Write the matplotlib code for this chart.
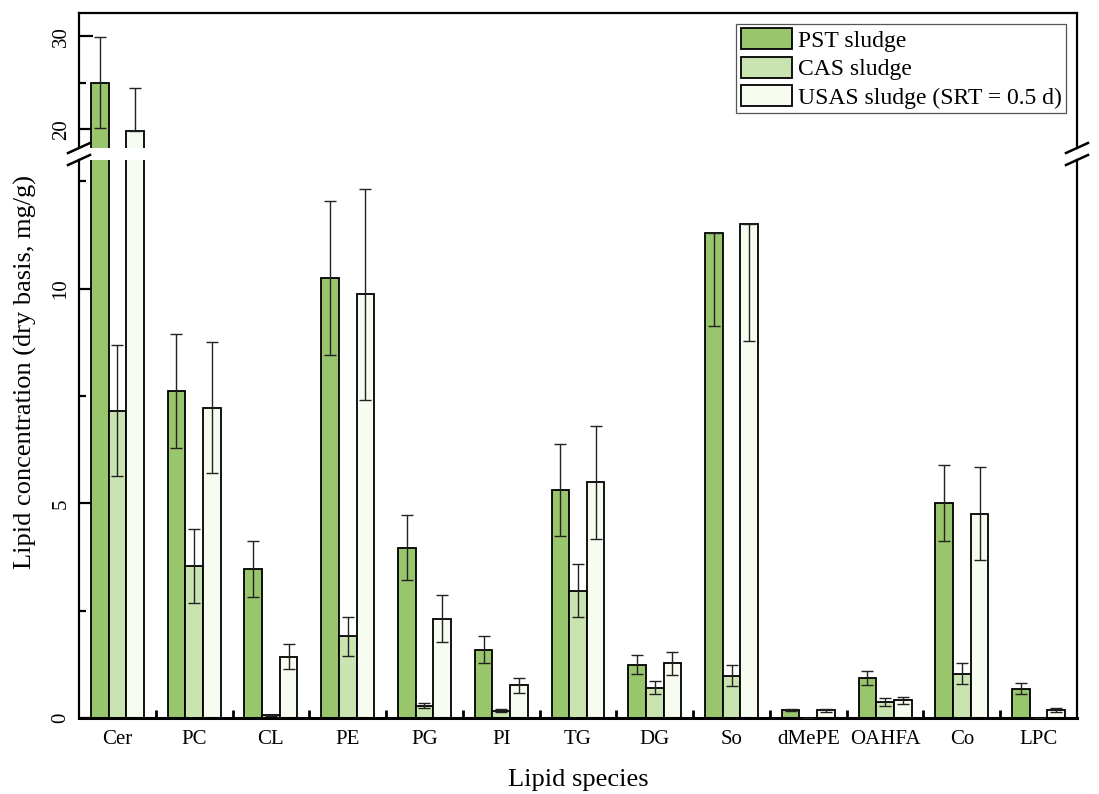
"""Lipid concentration by species, three sludge types, broken y axis."""

import numpy as np
import matplotlib
matplotlib.use('Agg')
import matplotlib.pyplot as plt
from matplotlib.lines import Line2D
from matplotlib.ticker import MultipleLocator, FixedLocator, NullFormatter, FixedFormatter

plt.rcParams['font.family'] = ['Liberation Serif', 'DejaVu Serif']

species = ['Cer', 'PC', 'CL', 'PE', 'PG', 'PI', 'TG', 'DG', 'So',
           'dMePE', 'OAHFA', 'Co', 'LPC']

pst = [25.0, 7.62, 3.47, 10.25, 3.97, 1.59, 5.31, 1.24, 11.31, 0.18, 0.93, 5.01, 0.68]
pst_err = [4.9, 1.33, 0.66, 1.80, 0.75, 0.32, 1.07, 0.22, 2.18, 0.02, 0.16, 0.89, 0.13]
cas = [7.16, 3.54, 0.06, 1.90, 0.29, 0.17, 2.97, 0.71, 0.99, 0.0, 0.38, 1.03, 0.0]
cas_err = [1.52, 0.87, 0.02, 0.45, 0.05, 0.03, 0.61, 0.15, 0.25, 0.0, 0.09, 0.24, 0.0]
usas = [19.8, 7.23, 1.43, 9.87, 2.31, 0.76, 5.49, 1.27, 11.52, 0.18, 0.41, 4.76, 0.19]
usas_err = [4.6, 1.53, 0.29, 2.45, 0.55, 0.17, 1.31, 0.27, 2.74, 0.03, 0.08, 1.09, 0.04]

series = [
    ('PST sludge', pst, pst_err, '#99c66d'),
    ('CAS sludge', cas, cas_err, '#c9e3b1'),
    ('USAS sludge (SRT = 0.5 d)', usas, usas_err, '#f6fcf0'),
]

TOP_LIM = (18, 32.5)
BOT_LIM = (0, 13)
BAR_W = 0.23
W, H = 1099, 794

fig = plt.figure(figsize=(W / 100, H / 100), dpi=100)
ax_top = fig.add_axes([79 / W, 1 - 148 / H, 998 / W, 135 / H])
ax_bot = fig.add_axes([79 / W, 1 - 718 / H, 998 / W, 558 / H])

x = np.arange(len(species))


def visible_errors(vals, errs, lim):
    """Keep only error bar halves whose cap falls inside the axis range."""
    lo, hi = [], []
    for v, e in zip(vals, errs):
        lo.append(e if lim[0] <= v - e <= lim[1] else 0)
        hi.append(e if lim[0] <= v + e <= lim[1] else 0)
    return [lo, hi]


for ax, lim in ((ax_top, TOP_LIM), (ax_bot, BOT_LIM)):
    for i, (label, vals, errs, colour) in enumerate(series):
        pos = x + (i - 1) * BAR_W
        ax.bar(pos, vals, width=BAR_W, color=colour, edgecolor='black',
               linewidth=1.3, label=label, zorder=2)
        ax.errorbar(pos, vals, yerr=visible_errors(vals, errs, lim), fmt='none',
                    ecolor='#222222', elinewidth=1.0, capsize=4.5, capthick=1.0,
                    zorder=3)
    ax.set_xlim(-0.5, len(species) - 0.5)
    ax.set_ylim(*lim)
    for side in ax.spines.values():
        side.set_linewidth(1.6)

ax_top.spines['bottom'].set_visible(False)
ax_bot.spines['top'].set_visible(False)
ax_bot.spines['bottom'].set_linewidth(2.2)

# y ticks
ax_top.yaxis.set_major_locator(FixedLocator([20, 30]))
ax_top.yaxis.set_minor_locator(FixedLocator([25]))
ax_bot.yaxis.set_major_locator(MultipleLocator(5))
ax_bot.yaxis.set_minor_locator(FixedLocator([2.5, 7.5, 12.5]))
for ax in (ax_top, ax_bot):
    ax.tick_params(axis='y', which='major', direction='in', length=10, width=1.6,
                   labelsize=15, pad=6, labelrotation=90, right=False)
    ax.tick_params(axis='y', which='minor', direction='in', length=5, width=1.6,
                   right=False)
    for t in ax.get_yticklabels():
        t.set_va('center')

# x ticks: marks between groups, labels under groups
ax_top.tick_params(axis='x', which='both', bottom=False, top=False, labelbottom=False)
ax_bot.xaxis.set_major_locator(FixedLocator(x[:-1] + 0.5))
ax_bot.xaxis.set_major_formatter(NullFormatter())
ax_bot.xaxis.set_minor_locator(FixedLocator(x))
ax_bot.xaxis.set_minor_formatter(FixedFormatter(species))
ax_bot.tick_params(axis='x', which='major', direction='in', length=6, width=2)
ax_bot.tick_params(axis='x', which='minor', length=0, labelsize=15, pad=9)

ax_bot.set_xlabel('Lipid species', fontsize=19, labelpad=14)
fig.text(25 / W, 1 - 372 / H, 'Lipid concentration (dry basis, mg/g)',
         rotation=90, ha='center', va='center', fontsize=19)

leg = ax_top.legend(loc='upper right', fontsize=17, frameon=True, fancybox=False,
                    edgecolor='#555555', framealpha=1, handlelength=2.15,
                    handleheight=1.0, handletextpad=0.25, labelspacing=0.2,
                    borderpad=0.2, borderaxespad=0.45)
leg.get_frame().set_linewidth(0.9)

# break marks on both spines
for px in (79, 1077):
    for py in (148, 160):
        fig.add_artist(Line2D([(px - 11) / W, (px + 11) / W],
                              [1 - (py + 5) / H, 1 - (py - 5) / H],
                              color='black', linewidth=1.8,
                              transform=fig.transFigure))

fig.savefig('out.png', dpi=100)
